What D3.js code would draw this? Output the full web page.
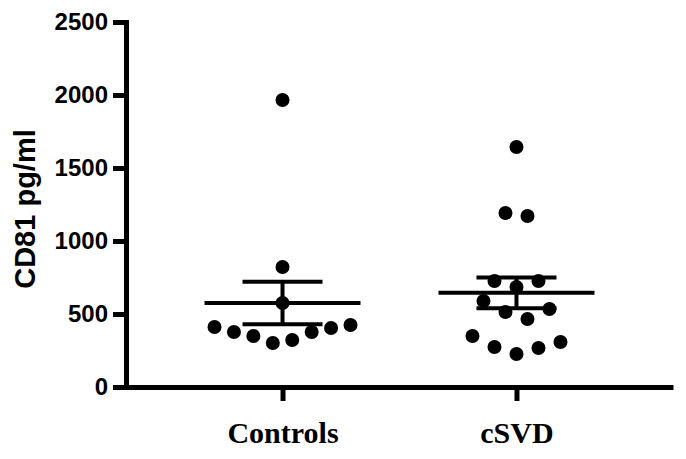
<!DOCTYPE html>
<html>
<head>
<meta charset="utf-8">
<script src="https://cdn.jsdelivr.net/npm/d3@7"></script>
<style>
  html, body { margin: 0; padding: 0; background: #fff; }
</style>
</head>
<body>
<div id="chart"></div>
<script>
// Column scatter with mean and SEM, one column per group.

const categories = ['Controls', 'cSVD'];
// values per group, in the order the columns were entered
const controlsValues = [322, 301, 377, 349, 404, 377, 425, 411, 575, 822, 1966];
const csvdValues = [226, 267, 274, 308, 349, 466, 514, 534, 589, 685, 726, 726, 1171, 1192, 1644];
const yTicks = [0, 500, 1000, 1500, 2000, 2500];
const yTitle = 'CD81 pg/ml';

const groups = [controlsValues, csvdValues];

const width = 686, height = 459;
const axisX = 126, axisY = 387, plotTop = 22, plotRight = 673;

const svg = d3.select('#chart')
  .append('svg')
  .attr('width', width)
  .attr('height', height)
  .attr('style', 'background-color:white');

const x = d3.scalePoint().domain(categories).range([axisX, plotRight]).padding(0.669);
const y = d3.scaleLinear().domain([0, 2500]).range([axisY, plotTop]);

// spread points that fall in the same value bin side by side, centre outwards
function scatterOffsets(values, binSize, maxSpan, maxStep) {
  const bins = d3.group(values.map((v, i) => ({ v, i })), d => Math.floor(d.v / binSize));
  const out = new Array(values.length);
  for (const members of bins.values()) {
    const n = members.length;
    const step = n > 1 ? Math.min(maxStep, maxSpan / (n - 1)) : 0;
    members.forEach((m, k) => {
      let slot;
      if (n % 2 === 1) {
        slot = k === 0 ? 0 : (k % 2 === 1 ? (k + 1) / 2 : -k / 2);
      } else {
        slot = k % 2 === 0 ? (k / 2 + 0.5) : -((k - 1) / 2 + 0.5);
      }
      out[m.i] = slot * step;
    });
  }
  return out;
}

// y axis
const yAxis = svg.append('g')
  .attr('transform', 'translate(' + axisX + ',0)')
  .call(d3.axisLeft(y).tickValues(yTicks).tickFormat(d3.format('d')).tickSize(13).tickSizeOuter(0).tickPadding(5));
yAxis.select('.domain').attr('stroke', '#000').attr('stroke-width', 5).attr('stroke-linecap', 'square');
yAxis.selectAll('.tick line').attr('stroke', '#000').attr('stroke-width', 5);
yAxis.selectAll('.tick text')
  .attr('fill', '#000')
  .attr('font-family', 'Liberation Sans, Arial, sans-serif')
  .attr('font-weight', 'bold')
  .attr('font-size', 24);

// x axis
const xAxis = svg.append('g')
  .attr('transform', 'translate(0,' + axisY + ')')
  .call(d3.axisBottom(x).tickSize(14).tickSizeOuter(0).tickPadding(0));
xAxis.select('.domain').attr('stroke', '#000').attr('stroke-width', 5);
xAxis.selectAll('.tick line').attr('stroke', '#000').attr('stroke-width', 5);
xAxis.selectAll('.tick text')
  .attr('fill', '#000')
  .attr('y', 56)
  .attr('dy', 0)
  .attr('font-family', 'Liberation Serif, Times New Roman, serif')
  .attr('font-weight', 'bold')
  .attr('font-size', 30);

// y title
svg.append('text')
  .attr('transform', 'translate(35,209) rotate(-90)')
  .attr('text-anchor', 'middle')
  .attr('font-family', 'Liberation Sans, Arial, sans-serif')
  .attr('font-weight', 'bold')
  .attr('font-size', 29)
  .attr('fill', '#000')
  .text(yTitle);

// points, mean and SEM
groups.forEach((values, gi) => {
  const cx = x(categories[gi]);
  const g = svg.append('g');
  const offsets = scatterOffsets(values, 220, 136, 22);

  g.selectAll('circle')
    .data(values)
    .join('circle')
    .attr('cx', (d, i) => cx + offsets[i])
    .attr('cy', d => y(d))
    .attr('r', 7)
    .attr('fill', '#000');

  const mean = d3.mean(values);
  const sem = d3.deviation(values) / Math.sqrt(values.length);

  g.append('line')
    .attr('x1', cx - 78).attr('x2', cx + 78)
    .attr('y1', y(mean)).attr('y2', y(mean))
    .attr('stroke', '#000').attr('stroke-width', 4);
  g.append('line')
    .attr('x1', cx).attr('x2', cx)
    .attr('y1', y(mean - sem)).attr('y2', y(mean + sem))
    .attr('stroke', '#000').attr('stroke-width', 4);
  [mean - sem, mean + sem].forEach(v => {
    g.append('line')
      .attr('x1', cx - 40).attr('x2', cx + 40)
      .attr('y1', y(v)).attr('y2', y(v))
      .attr('stroke', '#000').attr('stroke-width', 4);
  });
});
</script>
</body>
</html>
